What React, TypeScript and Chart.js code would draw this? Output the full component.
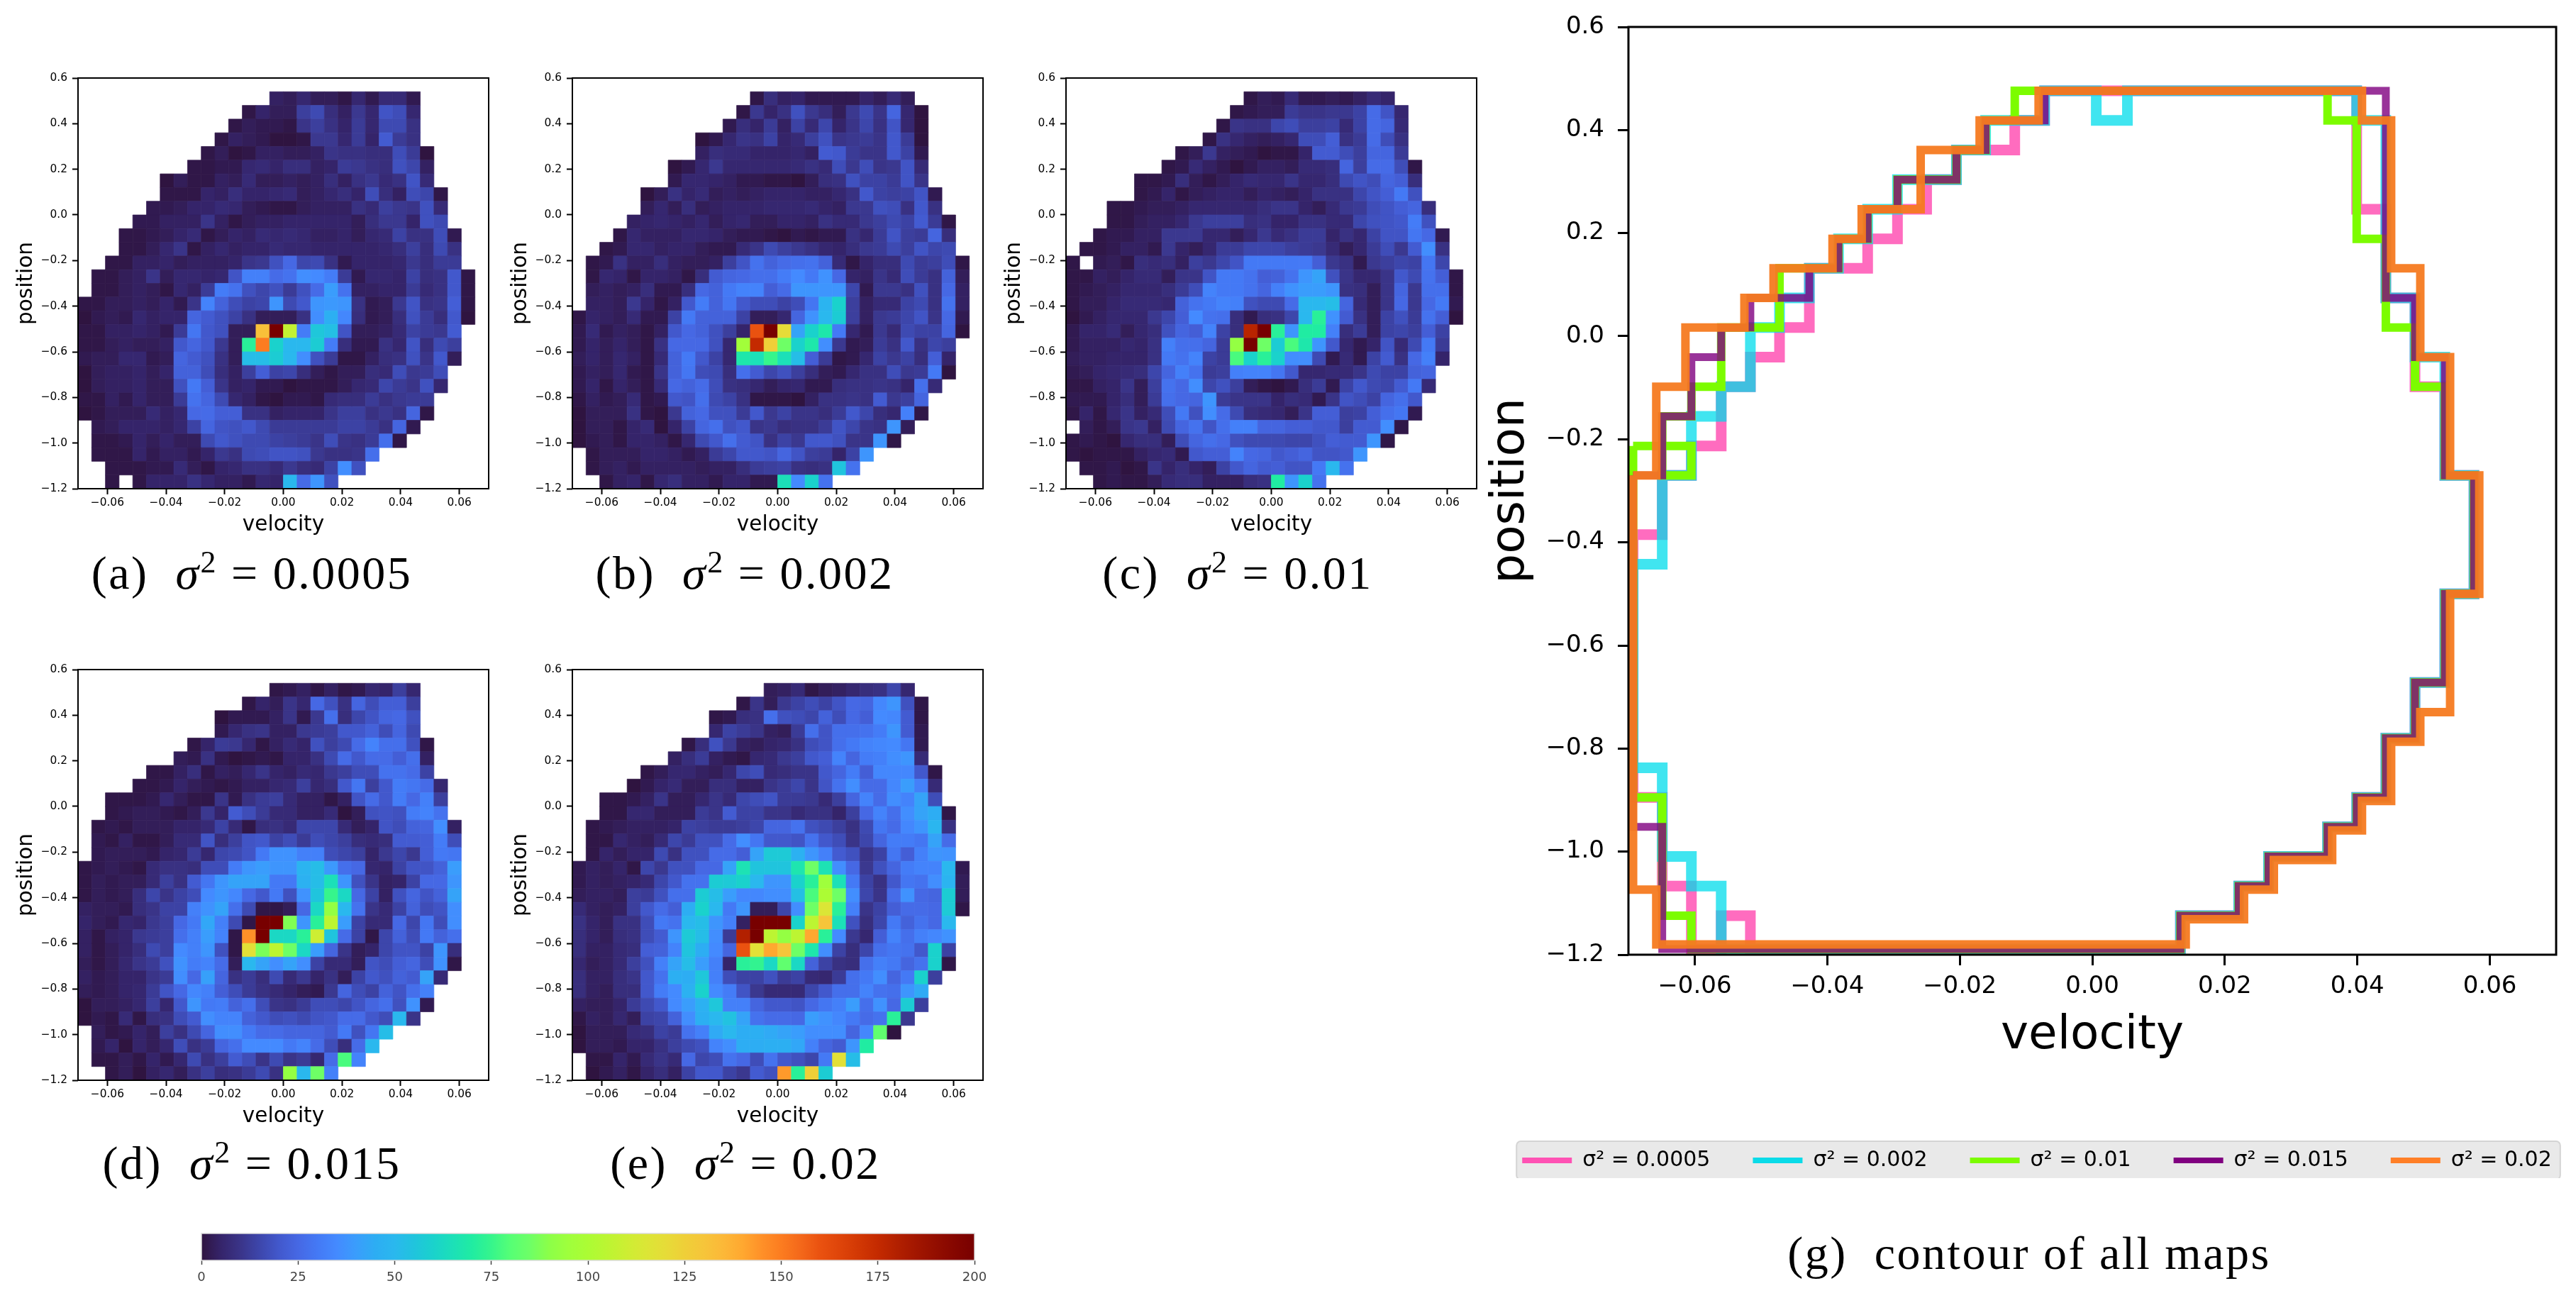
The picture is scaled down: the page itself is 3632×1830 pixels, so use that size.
import React, { useEffect, useRef } from "react";
import { Chart, registerables } from "chart.js";
Chart.register(...registerables);

// value -> colour table of the colour map (one stop every 5 units, 0..200)
const cmapStep = 5;
const cmapStops = ["#2f1440","#35246a","#3a3488","#3d46ab","#4258cc","#4668e4","#4479f5","#448aff","#3a9dfc","#2dadf3","#2ab8ee","#20c4dd","#1ad2cc","#1ce0b8","#20eca2","#36f58c","#56ff75","#6eff66","#8cff48","#9fff3c","#acfc34","#bcf532","#cdee33","#dbe636","#e6dc38","#efcf38","#f6c53a","#fcb838","#ffa830","#ff9028","#fc7c20","#f4681a","#ea5210","#df450a","#d23804","#c42a00","#b22000","#a21600","#930e00","#850600","#780000"];

const xTicks = [-0.06,-0.04,-0.02,0,0.02,0.04,0.06];
const yTicks = [-1.2,-1,-0.8,-0.6,-0.4,-0.2,0,0.2,0.4,0.6];
const cbTicks = [0,25,50,75,100,125,150,175,200];

// each row: [first column, value, value ...]; row index 0 is the top row of the map, -1 is an empty cell
const mapA: (number[]|null)[] = [null,
[14,4,3,6,3,3,1,6,2,7,7,2],
[12,1,5,3,3,13,16,8,4,11,6,19,17,6],
[11,1,3,2,2,1,10,13,9,5,12,6,16,16,9],
[10,1,4,3,2,0,0,1,11,11,6,12,5,21,12,9],
[9,1,3,0,1,4,4,3,3,4,10,9,9,8,8,17,12,0],
[8,1,1,2,2,6,7,5,8,8,4,5,12,11,9,8,18,15,4],
[6,0,3,1,1,4,3,7,3,3,4,3,4,8,4,9,11,7,9,19,7],
[6,1,1,1,5,4,8,5,5,6,7,3,4,6,8,5,17,8,4,17,15,1],
[5,2,2,3,5,5,7,6,3,2,1,1,3,4,4,4,9,7,13,11,10,18,7],
[4,2,2,4,4,4,10,4,1,3,4,4,5,5,5,5,5,3,8,11,11,5,18,16],
[3,1,1,2,3,5,7,1,3,5,4,7,6,7,6,4,4,5,3,6,7,14,9,9,17,2],
[3,1,1,3,6,10,1,4,6,4,5,5,7,6,6,5,5,5,5,5,6,8,13,8,16,9],
[2,1,1,4,4,5,3,4,4,4,5,10,11,18,25,15,16,9,2,5,5,5,6,11,8,12,12],
[1,1,1,3,4,10,3,6,6,5,6,19,32,32,26,28,36,35,31,12,2,6,6,5,14,8,9,20,1],
[1,1,1,3,4,3,1,6,4,12,31,28,18,15,18,12,18,26,40,28,4,4,5,5,12,7,9,20,1],
[0,1,1,3,3,4,3,5,2,10,33,23,17,14,15,38,16,20,38,39,38,9,2,3,11,19,9,10,22,1],
[0,0,2,3,2,6,4,5,5,24,21,18,14,9,3,3,3,9,36,46,34,8,2,3,8,18,12,8,20,0],
[0,1,1,4,4,5,4,2,12,29,20,18,3,3,132,200,107,31,56,53,19,3,3,4,7,14,12,11,21],
[0,1,1,3,4,3,3,4,20,24,20,11,3,72,150,60,50,50,58,31,8,2,2,9,6,19,8,16,13],
[0,2,3,3,6,6,2,3,24,21,18,9,3,52,52,58,50,36,18,12,1,1,4,8,9,18,10,20,3],
[0,0,3,4,4,5,3,5,23,23,17,8,4,13,22,14,15,8,3,1,3,3,8,7,17,11,12,17],
[0,0,3,4,4,5,3,3,18,30,22,10,4,5,2,2,0,1,1,1,3,6,7,15,12,10,18,6],
[0,1,1,4,2,5,3,3,12,28,24,16,6,4,1,0,2,2,1,7,8,8,12,9,11,12,12],
[0,0,1,3,3,3,7,4,6,25,26,22,22,9,9,4,5,5,5,10,13,13,9,11,9,24,1],
[1,2,3,5,5,5,4,6,14,24,19,18,20,16,12,12,12,12,12,14,14,12,9,24,2],
[1,1,1,2,5,3,5,3,3,16,20,18,16,16,14,13,12,10,17,10,9,12,27,1],
[1,1,1,1,5,2,4,4,2,5,11,9,16,17,19,19,18,11,9,9,10,27],
[2,1,1,1,2,2,7,3,1,5,6,9,9,7,11,8,7,14,36,18],
[2,1,-1,1,5,5,5,9,6,4,4,2,6,5,50,26,38,18]];

const mapB: (number[]|null)[] = [null,
[13,1,8,4,5,2,2,2,2,5,3,7,3],
[12,1,11,5,9,18,11,8,3,11,16,10,24,6,0],
[11,2,8,5,12,4,14,7,15,5,10,15,9,19,6,0],
[9,0,2,6,10,9,14,5,7,13,18,10,11,12,10,20,12,0],
[9,4,8,7,7,5,5,5,6,4,21,20,12,10,10,20,14,2],
[7,0,2,6,11,6,6,6,6,6,7,9,7,17,11,17,10,11,19,7],
[7,2,6,6,5,4,2,2,1,1,0,3,8,9,18,14,14,12,19,10],
[5,0,3,9,5,7,3,4,3,4,5,5,5,4,4,6,9,20,14,13,14,19,2],
[5,3,6,3,8,3,4,5,5,5,6,6,6,7,5,4,11,11,18,17,9,20,9],
[4,4,5,6,5,4,6,3,5,6,3,3,5,5,4,9,7,7,11,13,16,14,21,12,1],
[3,1,6,4,4,4,6,6,5,3,2,2,1,0,2,1,2,2,9,6,12,19,13,12,24,8],
[2,1,2,6,6,4,5,5,3,2,2,7,10,16,13,11,9,6,5,8,11,12,16,13,19,15,16],
[1,1,2,9,4,4,8,4,3,3,4,13,19,28,23,26,27,28,23,7,1,5,8,8,16,12,13,17,1],
[1,1,6,5,1,5,5,4,1,8,21,24,25,27,27,31,35,30,37,25,5,4,10,7,17,12,9,23,3],
[1,3,4,3,4,8,2,2,8,25,23,30,33,33,22,26,38,38,38,38,15,2,11,11,9,18,9,25,4],
[1,4,4,3,11,5,1,4,20,31,23,29,20,17,17,14,17,29,48,60,13,4,7,7,14,16,9,28,4],
[0,1,5,4,3,7,2,2,14,30,23,23,23,14,3,3,6,24,37,50,58,13,4,11,12,15,19,10,25,2],
[0,2,7,2,4,3,1,4,20,25,23,18,13,5,160,200,120,42,60,68,30,6,2,11,7,16,14,14,24,0],
[0,2,5,3,5,3,1,9,25,25,25,18,6,96,175,125,85,60,68,36,11,2,3,12,9,20,9,15,13],
[0,3,5,3,6,4,1,7,23,30,20,14,6,68,65,75,65,52,22,12,1,2,6,14,11,14,8,22,5],
[0,2,4,3,6,2,1,10,23,29,17,16,8,27,21,15,18,13,8,3,2,6,9,9,17,11,12,30,0],
[0,2,5,1,5,3,1,7,25,23,26,17,9,8,6,3,5,6,2,2,8,9,9,10,9,5,27,7],
[0,1,4,2,3,7,1,2,20,19,27,16,14,9,1,1,1,0,4,9,9,10,9,21,11,13,24],
[0,0,3,3,3,9,1,0,11,23,25,18,18,12,20,11,14,10,10,8,12,20,15,8,6,32,1],
[0,0,3,3,1,5,7,0,5,14,24,27,18,20,10,11,8,9,9,12,19,15,10,9,38,3],
[0,0,2,3,1,5,5,4,1,6,16,20,27,21,19,9,14,11,20,20,18,10,10,38,1],
[1,1,3,3,3,5,5,4,2,4,12,15,20,20,19,24,19,13,12,5,14,38],
[1,1,3,4,2,4,4,4,4,3,4,4,8,12,13,14,9,8,9,55,28],
[2,1,4,5,1,6,8,4,4,2,5,5,2,2,65,35,60,28]];

const mapC: (number[]|null)[] = [null,
[13,1,3,2,7,2,2,3,2,4,7,5],
[12,1,2,3,3,12,10,10,11,11,14,26,19,6],
[11,1,10,9,9,15,17,13,13,14,7,14,26,24,7],
[10,1,9,6,4,3,4,6,17,17,22,9,12,26,17,9],
[8,1,3,11,4,3,2,0,1,1,5,21,21,17,13,24,24,12],
[7,1,2,7,4,2,0,2,4,4,3,7,7,8,24,13,26,26,17,1],
[5,1,1,2,8,3,1,3,5,7,6,6,10,6,6,8,16,19,17,24,22,8],
[5,1,2,5,1,3,4,5,5,3,5,4,3,5,9,9,9,15,19,22,30,18],
[3,1,1,2,3,3,4,6,6,6,6,6,8,10,10,5,3,7,11,12,17,19,22,24,8],
[3,1,1,3,4,4,6,11,13,13,13,8,9,5,5,9,9,7,7,15,18,19,20,31,18],
[2,1,2,2,4,4,11,11,11,6,6,3,6,11,7,9,12,12,5,9,6,14,19,19,29,25,2],
[1,1,1,2,4,4,2,11,5,3,6,12,12,15,15,15,13,12,11,7,3,6,12,17,11,21,36,9],
[0,1,-1,2,3,1,8,7,8,4,13,11,15,19,30,30,30,30,30,22,11,9,2,11,13,15,14,29,15],
[0,1,1,4,3,5,7,7,3,10,10,19,30,30,28,22,23,28,38,42,18,10,6,6,10,20,16,28,22,1],
[0,1,2,3,4,6,6,6,8,12,17,33,30,30,28,24,32,37,40,40,38,9,8,3,10,24,11,27,27,1],
[0,1,3,3,5,7,7,7,6,23,28,30,33,32,18,16,16,26,50,50,52,24,7,3,10,25,11,25,30,2],
[0,0,2,4,6,6,6,11,15,22,35,28,27,8,2,8,9,15,50,72,37,21,9,3,14,18,12,28,22,0],
[0,2,5,5,7,3,6,8,18,24,22,33,14,8,178,200,72,38,70,70,32,8,12,3,14,15,13,22,14],
[0,2,4,4,4,6,5,9,32,27,27,24,12,92,200,85,58,78,68,38,20,6,2,5,19,7,16,30,12],
[0,3,4,4,5,5,5,9,30,28,33,14,12,78,60,72,60,36,36,16,2,7,2,14,21,9,25,32,5],
[0,2,3,5,6,7,8,15,24,32,28,12,13,32,33,33,29,20,6,6,7,7,10,16,14,14,23,24],
[0,1,1,4,5,10,3,13,28,25,36,15,18,13,3,1,0,2,8,12,2,14,20,16,15,21,30,7],
[0,2,2,2,5,8,3,12,27,25,24,38,12,10,10,10,5,8,7,2,10,19,17,14,24,27,20],
[0,1,5,1,6,10,4,7,17,30,18,36,26,16,8,7,6,3,10,22,22,13,14,22,27,29,2],
[1,3,1,3,10,11,4,16,24,28,19,27,32,32,24,24,22,22,20,20,13,21,21,36,1],
[0,1,2,1,0,6,8,8,3,17,24,27,25,18,16,16,16,15,15,18,22,21,21,38,1],
[0,1,0,1,1,1,4,6,7,2,20,22,22,33,25,24,20,22,24,19,19,20,38],
[1,1,1,2,0,1,10,5,8,5,3,14,20,24,21,22,19,19,30,50,28],
[2,1,2,1,1,3,7,8,8,4,4,4,8,9,70,38,60,28]];

const mapD: (number[]|null)[] = [null,
[14,1,2,4,1,4,1,2,6,5,13,6],
[12,1,5,3,10,6,25,18,9,24,17,22,22,13],
[10,0,2,2,2,4,10,2,11,27,8,15,19,24,25,18],
[10,2,6,9,10,4,4,11,12,13,20,20,23,17,24,16],
[8,1,5,12,11,6,1,4,7,5,18,13,16,26,33,27,27,18,1],
[7,3,2,9,2,0,1,2,1,5,5,9,16,26,20,26,26,22,27,4],
[5,1,1,4,8,1,4,3,6,10,5,4,7,6,11,13,17,17,28,28,26,14],
[4,1,1,2,5,3,2,1,2,4,4,6,7,13,6,8,20,29,13,20,31,29,26,6],
[2,1,1,1,2,6,3,1,1,10,2,9,12,13,7,4,4,1,4,19,26,20,31,25,32,13],
[2,1,2,3,3,2,1,3,11,5,21,17,12,7,7,4,4,7,0,3,18,19,18,31,33,28],
[1,1,2,1,3,3,3,5,5,7,14,7,1,8,9,7,15,15,15,7,3,5,19,17,23,24,36,4],
[1,2,1,4,1,1,3,7,7,19,8,13,19,20,14,17,12,17,15,13,8,7,8,21,21,22,31,17],
[1,2,3,3,3,2,5,6,12,6,15,16,19,30,37,37,32,32,17,15,13,5,11,15,11,22,30,29],
[0,1,2,3,2,1,7,9,9,8,17,17,31,38,40,38,38,48,52,39,27,25,6,5,14,19,19,23,40],
[0,1,3,2,3,3,7,13,9,21,29,38,42,42,42,30,30,47,52,65,38,18,10,4,5,14,25,25,38],
[0,1,3,2,3,8,15,10,14,17,35,38,34,25,20,30,18,37,55,75,62,25,14,4,18,24,19,23,42],
[0,4,3,3,2,8,10,14,14,32,37,42,27,16,1,1,3,25,62,92,50,28,10,7,14,23,17,19,36],
[0,5,3,2,6,5,11,13,25,30,43,32,16,1,200,200,88,38,72,105,40,14,7,7,25,15,29,17,36],
[0,4,1,4,5,11,12,13,27,32,40,33,1,145,200,62,62,72,110,55,26,14,1,15,23,17,30,23,27],
[0,4,1,3,5,8,16,13,35,32,38,18,1,118,87,105,85,62,40,24,10,3,5,15,19,19,14,38,8],
[0,3,1,3,6,10,12,18,37,31,33,26,3,50,42,36,42,36,14,7,7,3,19,17,22,24,17,37,1],
[0,4,2,3,5,5,10,12,36,25,41,24,9,12,8,16,7,11,5,9,3,14,20,18,23,21,42,7],
[0,3,2,3,5,6,12,19,25,34,32,22,17,12,9,7,5,3,2,11,24,17,14,23,19,27,32],
[0,0,3,3,4,6,13,6,20,38,30,31,23,27,17,10,9,12,17,17,15,19,24,27,18,37,2],
[0,0,2,1,7,1,8,9,17,21,36,33,33,23,20,17,18,16,19,20,26,26,20,17,50,10],
[1,3,1,2,5,3,13,9,16,24,36,36,30,26,26,24,24,24,21,30,18,29,52],
[1,2,5,0,5,3,6,17,9,12,24,27,35,35,35,30,33,26,17,8,26,50],
[1,1,1,3,1,5,2,6,16,9,13,21,17,10,16,10,12,6,26,78,33],
[2,1,3,0,4,6,3,9,13,8,9,12,16,9,92,50,85,32]];

const mapE: (number[]|null)[] = [null,
[14,3,4,7,1,3,4,6,8,9,15,6],
[12,1,10,3,11,14,17,14,19,25,24,34,38,18,1],
[10,1,2,8,9,27,18,17,15,23,17,25,22,35,34,21,1],
[10,6,14,12,10,4,3,12,27,19,27,27,28,31,38,21,2],
[8,1,8,18,11,4,3,5,6,9,17,19,27,30,33,34,35,29,2],
[7,4,8,12,4,2,1,6,7,11,13,20,22,33,24,31,32,36,38,7],
[5,1,3,6,6,4,3,6,15,17,7,8,10,10,20,24,31,22,34,34,34,20,1],
[4,0,2,5,7,3,3,8,8,4,4,10,12,15,10,19,28,36,26,26,34,40,32,7],
[2,1,1,2,4,10,3,3,6,10,7,15,17,19,12,12,11,7,13,24,33,26,36,33,42,17],
[2,1,1,6,6,3,3,3,12,10,21,14,14,10,10,7,9,9,5,13,25,33,27,36,42,45,1],
[1,1,2,3,4,4,4,5,14,13,12,12,13,15,24,24,28,18,16,13,9,16,29,26,34,38,49,9],
[1,1,1,6,4,3,7,15,12,18,18,26,36,29,20,20,19,28,20,17,10,15,24,31,31,29,42,26],
[1,1,5,3,5,5,16,9,18,18,26,26,22,42,57,57,47,38,32,21,18,10,14,29,22,32,38,37],
[0,2,4,3,5,1,15,11,18,18,25,25,42,66,55,55,55,67,85,66,36,25,11,18,24,31,33,33,50,2],
[0,2,4,3,4,5,7,15,20,28,28,58,57,60,50,38,38,60,72,95,65,30,14,9,20,29,28,36,48,3],
[0,3,4,4,3,13,12,18,27,27,58,52,40,34,34,36,36,53,78,100,85,36,15,10,26,37,25,24,58,3],
[0,7,4,3,4,13,20,26,22,45,60,50,30,38,3,3,15,36,85,115,72,32,10,14,22,26,26,25,57,1],
[0,9,5,3,9,9,17,30,28,50,52,38,32,4,200,200,200,60,105,130,65,18,8,15,30,23,28,25,50],
[0,8,5,3,8,9,17,21,38,57,52,36,12,180,200,105,92,105,140,72,35,11,6,22,33,27,32,34,37],
[0,8,4,4,7,8,22,23,33,55,45,35,24,160,118,140,130,85,68,36,14,8,15,27,29,28,20,60,14],
[0,6,3,4,7,13,18,32,42,52,40,32,5,72,74,62,82,62,23,14,9,8,27,32,30,24,28,60,1],
[0,8,4,4,8,10,20,28,46,45,56,32,17,14,14,18,12,14,7,6,12,27,30,36,24,30,60,13],
[0,8,4,3,8,8,20,31,35,47,60,35,31,19,11,7,7,7,15,20,27,27,33,28,27,38,44],
[0,4,3,3,5,12,16,20,35,40,47,56,32,32,24,20,20,19,25,29,32,40,27,37,25,58,13],
[0,1,4,3,6,3,14,15,23,36,46,50,54,42,28,26,26,25,40,37,34,30,26,28,72,11],
[0,0,3,3,3,7,8,14,12,28,32,44,50,45,46,44,42,40,36,36,36,24,34,82,0],
[0,0,3,3,2,5,5,9,13,16,18,33,36,45,45,46,46,43,32,24,21,38,70],
[1,1,1,5,2,7,10,7,25,15,17,28,25,17,28,20,18,15,30,118,52],
[1,0,2,4,1,5,8,4,14,20,20,14,11,21,18,143,72,125,58]];

// contour vertices are indices into these edge tables
const outerV = [-0.0693,-0.0658,-0.0614,-0.0569,-0.0525,-0.0481,-0.0436,-0.0392,-0.0348,-0.0303,-0.0259,-0.0214,-0.0170,-0.0126,-0.0081,-0.0037,0.0007,0.0052,0.0096,0.0141,0.0185,0.0229,0.0274,0.0318,0.0362,0.0407,0.0451,0.0495,0.0540,0.0584];
const innerV = [-0.0693,-0.0649,-0.0605,-0.0560,-0.0516,-0.0472,-0.0427,-0.0383,-0.0339,-0.0294,-0.0250,-0.0205,-0.0161,-0.0117,-0.0072,-0.0037,0.0006,0.0053,0.0090,0.0133,0.0178,0.0221,0.0266,0.0310,0.0355,0.0399,0.0443,0.0487,0.0532,0.0576];
const outerP = [0.476,0.4186,0.3612,0.3038,0.2464,0.189,0.1316,0.0742,0.0168,-0.0406,-0.098,-0.1554,-0.2128,-0.2702,-0.3276,-0.385,-0.4424,-0.4998,-0.5572,-0.6146,-0.672,-0.7294,-0.7868,-0.8442,-0.9016,-0.959,-1.0164,-1.0738,-1.1312,-1.18];
const innerP = [0.476,0.4186,0.3612,0.3038,0.2464,0.189,0.1316,0.0742,0.0168,-0.0406,-0.098,-0.1554,-0.2128,-0.2702,-0.3276,-0.385,-0.4424,-0.4998,-0.5572,-0.6146,-0.672,-0.7225,-0.7799,-0.8373,-0.8947,-0.9521,-1.0095,-1.0669,-1.1243,-1.189];

// shared lower-right stretch of the four inner contours
const chainLower = [[29,13],[29,17],[28,17],[28,20],[27,20],[27,22],[26,22],[26,24],[25,24],[25,25],[24,25],[24,26],[22,26],[22,27],[21,27],[21,28],[19,28],[19,29]];

const contourPink = [[0,15],[1,15],[1,13],[2,13],[2,12],[3,12],[3,10],[4,10],[4,9],[5,9],[5,8],[6,8],[6,6],[8,6],[8,5],[9,5],[9,4],[10,4],[10,3],[11,3],[11,2],[13,2],[13,1],[14,1],[14,0],[25,0],[25,4],[26,4],[26,7],[27,7],[27,10],[28,10],[28,13],...chainLower,[4,29],[4,28],[3,28],[3,29],[2,29],[2,27],[1,27],[1,24],[0,24],[0,15]];
const contourCyan = [[0,16],[1,16],[1,13],[2,13],[2,11],[3,11],[3,10],[4,10],[4,8],[5,8],[5,7],[6,7],[6,6],[7,6],[7,5],[8,5],[8,4],[9,4],[9,3],[11,3],[11,2],[12,2],[12,1],[14,1],[14,0],[16,0],[16,1],[17,1],[17,0],[25,0],[25,1],[26,1],[26,7],[27,7],[27,9],[28,9],[28,13],...chainLower,[3,29],[3,27],[2,27],[2,26],[1,26],[1,23],[0,23],[0,16]];
const contourGreen = [[0,12],[2,12],[2,13],[1,13],[1,11],[2,11],[2,10],[3,10],[3,8],[5,8],[5,6],[7,6],[7,5],[8,5],[8,4],[9,4],[9,3],[11,3],[11,2],[12,2],[12,1],[13,1],[13,0],[24,0],[24,1],[25,1],[25,5],[26,5],[26,8],[27,8],[27,10],[28,10],[28,13],...chainLower,[2,29],[2,28],[1,28],[1,24],[0,24],[0,12]];
const contourPurple = [[0,13],[1,13],[1,11],[2,11],[2,9],[3,9],[3,8],[4,8],[4,7],[6,7],[6,6],[7,6],[7,5],[8,5],[8,4],[9,4],[9,3],[11,3],[11,2],[12,2],[12,1],[14,1],[14,0],[26,0],[26,7],[27,7],[27,9],[28,9],[28,13],...chainLower,[1,29],[1,25],[0,25],[0,13]];
const contourOrange = [[0,13],[1,13],[1,10],[2,10],[2,8],[4,8],[4,7],[5,7],[5,6],[7,6],[7,5],[8,5],[8,4],[10,4],[10,2],[12,2],[12,1],[14,1],[14,0],[25,0],[25,1],[26,1],[26,6],[27,6],[27,9],[28,9],[28,13],[29,13],[29,17],[28,17],[28,21],[27,21],[27,22],[26,22],[26,24],[25,24],[25,25],[24,25],[24,26],[22,26],[22,27],[21,27],[21,28],[19,28],[19,29],[1,29],[1,27],[0,27],[0,13]];

const legendNames = ["σ² = 0.0005","σ² = 0.002","σ² = 0.01","σ² = 0.015","σ² = 0.02"];
const legendColors = ["#ff52b4","#0adbe8","#7cfc00","#800080","#ff7f27"];
const lineColors = ["rgba(255,82,180,0.85)","rgba(0,220,235,0.75)","rgba(124,252,0,1)","rgba(128,0,128,0.8)","rgba(245,122,32,0.95)"];
const lineWidths = [15,15,12,11,12];

const FONT = "'DejaVu Sans'";
const GRID = 30;
const VMIN = -0.07, VMAX = 0.07, PMIN = -1.2, PMAX = 0.6;

function hexToRgb(h: string) { return [1,3,5].map(i => parseInt(h.slice(i,i+2),16)); }
function colorOf(v: number) {
  const t = Math.min(cmapStops.length-1.0001, Math.max(0, v/cmapStep));
  const i = Math.floor(t), f = t-i;
  const a = hexToRgb(cmapStops[i]), b = hexToRgb(cmapStops[i+1]);
  const c = a.map((x,k)=>Math.round(x+(b[k]-x)*f));
  return `rgb(${c[0]},${c[1]},${c[2]})`;
}
function minus(s: string) { return s.replace("-","\u2212"); }
function clearPadding(axis: any) { axis.paddingLeft=0; axis.paddingRight=0; axis.paddingTop=0; axis.paddingBottom=0; }

const framePlugin = (w: number) => ({
  id: "frame",
  afterDatasetsDraw(chart: any) {
    const {left,top,width,height} = chart.chartArea; const c = chart.ctx;
    c.save(); c.strokeStyle="#000"; c.lineWidth=w; c.strokeRect(left,top,width,height); c.restore();
  },
});

function axisOpts(ticks: number[], digits: number, s: any, side: "x"|"y", min: number, max: number, title: string) {
  return {
    type: "linear", min, max, position: side==="x"?"bottom":"left",
    afterBuildTicks(axis: any) { axis.ticks = ticks.map(value=>({value})); },
    afterFit(axis: any) { clearPadding(axis); if (side==="x") axis.height = s.B; else axis.width = s.L; },
    ticks: { autoSkip:false, maxRotation:0, minRotation:0, color:"#000", font:{family:FONT,size:s.tickFont,lineHeight:1}, padding: side==="x"?s.padX:s.padY,
      callback:(v:number)=>minus(Number(v).toFixed(digits)) },
    grid: { drawOnChartArea:false, drawTicks:true, tickLength:s.tick, tickWidth:s.tickW, tickColor:"#000" },
    border: { display:false },
    title: { display:true, text:title, color:"#000", font:{family:FONT,size:s.titleFont,lineHeight:1}, padding: side==="x"?{top:0,bottom:s.titleX}:{top:s.titleY,bottom:0} },
  };
}

function useChart(build: ()=>any) {
  const ref = useRef<HTMLCanvasElement>(null);
  useEffect(()=>{ const ch = new Chart(ref.current as any, build()); return ()=>ch.destroy(); },[]);
  return ref;
}

const heatStyle = { L:105,T:15,R:15,B:95,tick:8,tickW:2,tickFont:15.4,padX:4,padY:7,titleFont:29.5,titleX:29,titleY:18 };
const CELL = 579/GRID;

function HeatPanel({map,left,top}:{map:(number[]|null)[],left:number,top:number}) {
  const s = heatStyle;
  const ref = useChart(()=>{
    const pts:any[]=[]; const cols:string[]=[];
    map.forEach((row,r)=>{ if(!row) return; row.slice(1).forEach((v,k)=>{ if(v<0) return;
      const c=row[0]+k;
      pts.push({x:VMIN+(c+0.5)*(VMAX-VMIN)/GRID,y:PMAX-(r+0.5)*(PMAX-PMIN)/GRID}); cols.push(colorOf(v)); }); });
    return { type:"scatter",
      data:{datasets:[{data:pts,pointStyle:"rect",pointRadius:CELL/2*Math.SQRT2,pointBackgroundColor:cols,pointBorderColor:cols,pointBorderWidth:0.7,clip:false}]},
      plugins:[framePlugin(2)],
      options:{ animation:false,responsive:false,devicePixelRatio:1,events:[],
        layout:{autoPadding:false,padding:{left:0,top:s.T,right:s.R,bottom:0}},
        plugins:{legend:{display:false},tooltip:{enabled:false}},
        scales:{x:axisOpts(xTicks,2,s,"x",VMIN,VMAX,"velocity"),y:axisOpts(yTicks,1,s,"y",PMIN,PMAX,"position")} } };
  });
  const w=579+s.L+s.R,h=579+s.T+s.B;
  return <canvas ref={ref} width={w} height={h} style={{position:"absolute",left:left-s.L,top:top-s.T,width:w,height:h}}/>;
}

const mainStyle = { L:236,T:20,R:80,B:215,tick:15,tickW:3,tickFont:34,padX:13,padY:19,titleFont:66,titleX:67,titleY:38 };
const MAIN = {left:2296,top:38,size:1308,legendPad:60,canvasH:1643};

function MainChart() {
  const s = mainStyle;
  const ref = useChart(()=>{
    const series=[contourPink,contourCyan,contourGreen,contourPurple,contourOrange];
    const datasets = series.map((path,i)=>{
      const V = i===4?outerV:innerV, P = i===4?outerP:innerP;
      return { label:legendNames[i], data:path.map(([k,j])=>({x:V[k],y:P[j]})), showLine:true, pointRadius:0, tension:0, fill:false,
        borderColor:lineColors[i], backgroundColor:legendColors[i], borderWidth:lineWidths[i], borderJoinStyle:"miter", borderCapStyle:"butt", clip:false, order:5-i };
    });
    const legendBg = { id:"legendBg", beforeDraw(chart:any){
      const h=chart.legend.legendHitBoxes; if(!h||!h.length) return; const c=chart.ctx;
      const l=h[0].left-8, r=h[h.length-1].left+h[h.length-1].width+12, cy=h[0].top+h[0].height/2;
      c.save(); c.beginPath(); c.roundRect(l,cy-27,r-l,54,6); c.fillStyle="#e9e9e9"; c.fill(); c.strokeStyle="#d4d4d4"; c.lineWidth=2; c.stroke(); c.restore();
    }};
    return { type:"scatter", data:{datasets}, plugins:[framePlugin(3),legendBg],
      options:{ animation:false,responsive:false,devicePixelRatio:1,events:[],
        layout:{autoPadding:false,padding:{left:0,top:s.T,right:0,bottom:0}},
        plugins:{tooltip:{enabled:false},
          legend:{display:true,position:"bottom",align:"center",labels:{boxWidth:70,boxHeight:8,padding:MAIN.legendPad,color:"#000",font:{family:FONT,size:30},
            generateLabels:(chart:any)=>chart.data.datasets.map((d:any,i:number)=>({text:d.label,fillStyle:legendColors[i],strokeStyle:legendColors[i],lineWidth:0,datasetIndex:i,hidden:false}))}}},
        scales:{x:axisOpts(xTicks,2,s,"x",VMIN,VMAX,"velocity"),y:axisOpts(yTicks,1,s,"y",PMIN,PMAX,"position"),
          rightGap:{type:"linear",position:"right",min:0,max:1,afterFit(axis:any){clearPadding(axis);axis.width=s.R;},ticks:{display:false},grid:{display:false,drawTicks:false},border:{display:false}}} } };
  });
  const w=MAIN.size+s.L+s.R,h=MAIN.canvasH;
  return <canvas ref={ref} width={w} height={h} style={{position:"absolute",left:MAIN.left-s.L,top:MAIN.top-s.T,width:w,height:h}}/>;
}

const colorbarRange = [0,200];
function Colorbar() {
  const L=20,T=9,R=20,W=1090,H=38,B=40;
  const ref = useChart(()=>({
    type:"bar",
    data:{labels:[""],datasets:[{data:[colorbarRange],barPercentage:1,categoryPercentage:1,borderWidth:0,
      backgroundColor:(ctx:any)=>{ const a=ctx.chart.chartArea; if(!a) return "#000";
        const g=ctx.chart.ctx.createLinearGradient(a.left,0,a.right,0);
        cmapStops.forEach((c,i)=>g.addColorStop(i/(cmapStops.length-1),c)); return g; }}]},
    plugins:[{id:"cbEdge",afterDatasetsDraw(chart:any){const a=chart.chartArea,c=chart.ctx;c.save();c.strokeStyle="#dcdcdc";c.lineWidth=1.5;c.strokeRect(a.left,a.top,a.width,a.height);c.restore();}}],
    options:{animation:false,responsive:false,devicePixelRatio:1,events:[],indexAxis:"y",
      layout:{autoPadding:false,padding:{left:L,top:T,right:R,bottom:0}},
      plugins:{legend:{display:false},tooltip:{enabled:false}},
      scales:{
        y:{display:false,offset:true},
        x:{type:"linear",min:0,max:200,afterBuildTicks(axis:any){axis.ticks=cbTicks.map(value=>({value}));},afterFit(axis:any){clearPadding(axis);axis.height=B;},
          ticks:{autoSkip:false,maxRotation:0,color:"#444",font:{family:FONT,size:18,lineHeight:1},padding:9},
          grid:{drawOnChartArea:false,drawTicks:true,tickLength:6,tickWidth:1.5,tickColor:"#444"},border:{display:false}}}}
  }));
  const w=L+W+R,h=T+H+B;
  return <canvas ref={ref} width={w} height={h} style={{position:"absolute",left:284-L,top:1739-T,width:w,height:h}}/>;
}

const captions = [
  {tag:"(a)",val:"0.0005",cx:355,cy:808},
  {tag:"(b)",val:"0.002",cx:1050,cy:808},
  {tag:"(c)",val:"0.01",cx:1745,cy:808},
  {tag:"(d)",val:"0.015",cx:355,cy:1640},
  {tag:"(e)",val:"0.02",cx:1051,cy:1640},
];
const capStyle:any = {position:"absolute",transform:"translate(-50%,-50%)",whiteSpace:"nowrap",fontFamily:"'Liberation Serif',serif",fontSize:66,letterSpacing:2.5,lineHeight:1,color:"#000"};

export default function App(){
  return <div style={{position:"absolute",left:0,top:0,width:3632,height:1830,overflow:"hidden",background:"#fff"}}>
    <HeatPanel map={mapA} left={110} top={110}/>
    <HeatPanel map={mapB} left={807} top={110}/>
    <HeatPanel map={mapC} left={1503} top={110}/>
    <HeatPanel map={mapD} left={110} top={944}/>
    <HeatPanel map={mapE} left={807} top={944}/>
    <MainChart/>
    <Colorbar/>
    {captions.map(c=><div key={c.tag} style={{...capStyle,left:c.cx,top:c.cy}}>{c.tag}&nbsp; <i>σ</i><sup style={{fontSize:44,lineHeight:0}}>2</sup> = {c.val}</div>)}
    <div style={{...capStyle,left:2861,top:1767}}>(g)&nbsp; contour of all maps</div>
  </div>;
}
